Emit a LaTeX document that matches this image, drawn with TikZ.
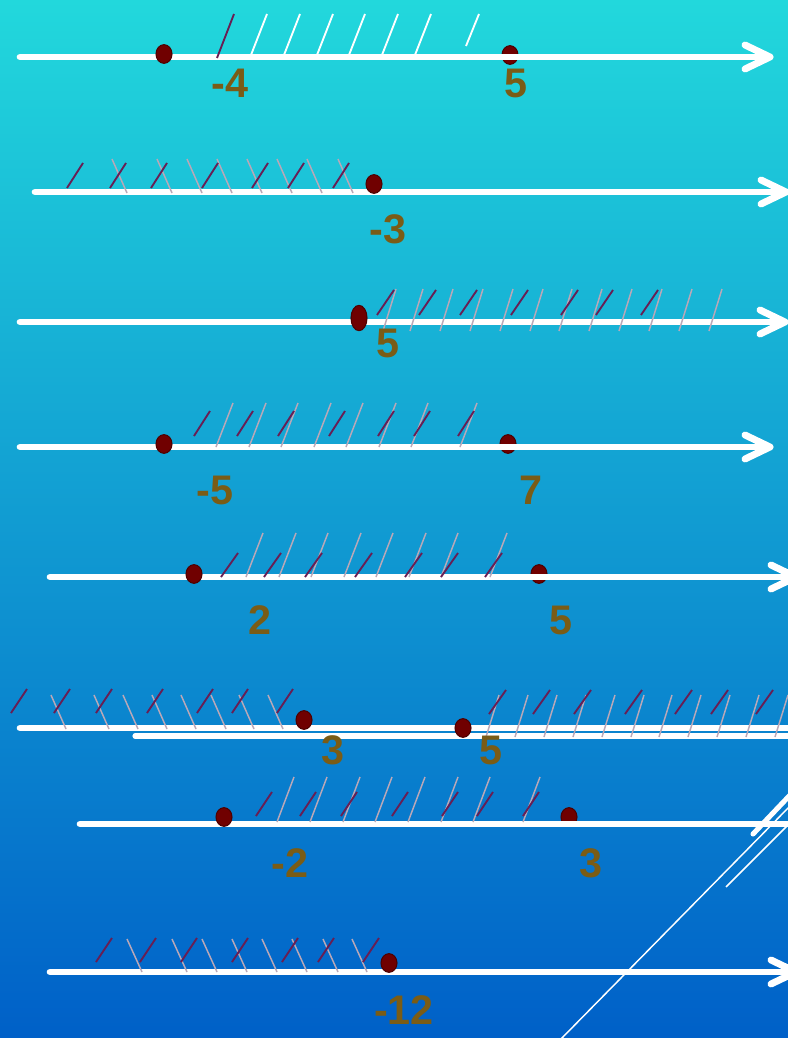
\documentclass[tikz,border=0pt]{standalone}
\usepackage{fontspec}
\setmainfont{Liberation Sans}
\usetikzlibrary{shapes.geometric}
\definecolor{bgtop}{RGB}{34,216,220}
\definecolor{bgmid}{RGB}{14,160,228}
\definecolor{bgbot}{RGB}{0,96,200}
\definecolor{dotfill}{RGB}{112,0,0}
\definecolor{dotedge}{RGB}{78,0,0}
\definecolor{numcol}{RGB}{122,92,22}
\definecolor{hatchdark}{RGB}{104,30,84}
\definecolor{hatchlight}{RGB}{186,168,184}
\begin{document}
\begin{tikzpicture}[x=0.75pt,y=-0.75pt,
  axis/.style={white, line width=5pt, line cap=round},
  tipmark/.style={white, line width=5.2pt, line cap=round, line join=round},
  thinaxis/.style={white, line width=3.8pt, line cap=round},
  dotmark/.style={ellipse, fill=dotfill, draw=dotedge, line width=0.8pt,
    inner sep=0pt, minimum width=12pt, minimum height=14pt},
  bigdot/.style={dotmark, minimum height=19pt},
  num/.style={text=numcol, inner sep=0pt,
    font=\fontsize{31}{31}\selectfont\bfseries},
  darkhatch/.style={hatchdark, line width=1.4pt},
  lighthatch/.style={hatchlight, line width=1.1pt},
  whitehatch/.style={white, line width=1.4pt},
  deco/.style={white, line width=1.1pt}]

% background
\shade[top color=bgtop, middle color=bgmid, bottom color=bgbot] (0,0) rectangle (788,1038);
\useasboundingbox (0,0) rectangle (788,1038);
\clip (0,0) rectangle (788,1038);

% decorative strokes in the lower right corner
\draw[deco] (560,1040) -- (792,804);
\draw[deco] (726,887) -- (792,821);
\draw[white, line width=3.8pt, line cap=round] (753,834) -- (792,793);

% ---------- endpoints covered by the axis ----------
\node[dotmark] (p1b) at (510,55) {};
\node[dotmark] (p4b) at (508,444) {};
\node[dotmark] (p5b) at (539,574) {};
\node[dotmark] (p7b) at (569,817) {};

% ---------- axes ----------
\coordinate (s1) at (20,57);   \coordinate (e1) at (770,57);
\coordinate (s2) at (35,192);  \coordinate (e2) at (786,192);
\coordinate (s3) at (20,322);  \coordinate (e3) at (785,322);
\coordinate (s4) at (20,447);  \coordinate (e4) at (770,447);
\coordinate (s5) at (50,577);  \coordinate (e5) at (796,577);
\coordinate (s6) at (20,728);  \coordinate (e6) at (800,728);
\coordinate (s6b) at (135,736); \coordinate (e6b) at (800,736);
\coordinate (s7) at (80,824);  \coordinate (e7) at (800,824);
\coordinate (s8) at (50,972);  \coordinate (e8) at (796,972);

\foreach \s/\e in {s1/e1,s2/e2,s3/e3,s4/e4,s5/e5,s7/e7,s8/e8,s6/e6}
  \draw[axis] (\s) -- (\e);
\draw[thinaxis] (s6b) -- (e6b);
\foreach \e in {e1,e2,e3,e4,e5,e8}
  \draw[tipmark] (\e) ++(-25,-12) -- (\e) -- ++(-25,12);

% ---------- hatching ----------
% row 1
\foreach \x in {251,284,317,349,382,415}
  \draw[whitehatch] (\x,55) -- ++(16,-41);
\draw[whitehatch] (466,46) -- (479,14);
\draw[darkhatch] (217,58) -- (234,14);

% row 2
\foreach \x in {112,157,187,217,247,277,307,338}
  \draw[lighthatch] (\x,159) -- ++(15,34);
\foreach \x in {67,110,151,202,252,288,333}
  \draw[darkhatch] (\x,188) -- ++(16,-25);

% row 3
\foreach \x in {383,410,440,470,500,530,559,589,619,649,679,709}
  \draw[lighthatch] (\x,331) -- ++(13,-42);
\foreach \x in {377,419,460,511,561,596,641}
  \draw[darkhatch] (\x,315) -- ++(17,-25);

% row 4
\foreach \x in {216,249,281,314,346,379,411,460}
  \draw[lighthatch] (\x,447) -- ++(17,-44);
\foreach \x in {194,237,278,329,378,414,458}
  \draw[darkhatch] (\x,436) -- ++(16,-25);

% row 5
\foreach \x in {246,279,311,344,376,409,441,490}
  \draw[lighthatch] (\x,577) -- ++(17,-44);
\foreach \x in {221,264,305,355,405,441,485}
  \draw[darkhatch] (\x,577) -- ++(17,-24);

% row 6, left part
\foreach \x in {51,94,123,152,181,211,239,268}
  \draw[lighthatch] (\x,695) -- ++(15,34);
\foreach \x in {11,54,96,147,197,232,277}
  \draw[darkhatch] (\x,713) -- ++(16,-24);
% row 6, right part
\foreach \x in {486,515,544,573,602,631,659,688,717,746,775}
  \draw[lighthatch] (\x,737) -- ++(13,-42);
\foreach \x in {489,533,574,625,675,711,756}
  \draw[darkhatch] (\x,714) -- ++(17,-24);

% row 7
\foreach \x in {277,310,343,375,408,441,473,523}
  \draw[lighthatch] (\x,822) -- ++(17,-45);
\foreach \x in {256,300,341,392,442,477,523}
  \draw[darkhatch] (\x,816) -- ++(16,-24);

% row 8
\foreach \x in {127,172,202,232,262,292,323,352}
  \draw[lighthatch] (\x,939) -- ++(15,33);
\foreach \x in {96,140,181,232,282,318,363}
  \draw[darkhatch] (\x,962) -- ++(16,-24);

% ---------- endpoints on top of the axis ----------
\node[dotmark] (p1a) at (164,54) {};
\node[dotmark] (p2a) at (374,184) {};
\node[bigdot]  (p3a) at (359,318) {};
\node[dotmark] (p4a) at (164,444) {};
\node[dotmark] (p5a) at (194,574) {};
\node[dotmark] (p6a) at (304,720) {};
\node[dotmark] (p6b) at (463,728) {};
\node[dotmark] (p7a) at (224,817) {};
\node[dotmark] (p8a) at (389,963) {};

% ---------- numbers ----------
\node[num] (n1a) at (230,83) {-4};
\node[num] (n1b) at (516,83) {5};
\node[num] (n2a) at (388,229) {-3};
\node[num] (n3a) at (388,343) {5};
\node[num] (n4a) at (215,490) {-5};
\node[num] (n4b) at (531,490) {7};
\node[num] (n5a) at (260,620) {2};
\node[num] (n5b) at (561,620) {5};
\node[num] (n6a) at (333,750) {3};
\node[num] (n6b) at (491,750) {5};
\node[num] (n7a) at (290,863) {-2};
\node[num] (n7b) at (591,863) {3};
\node[num] (n8a) at (404,1010) {-12};
\end{tikzpicture}
\end{document}
